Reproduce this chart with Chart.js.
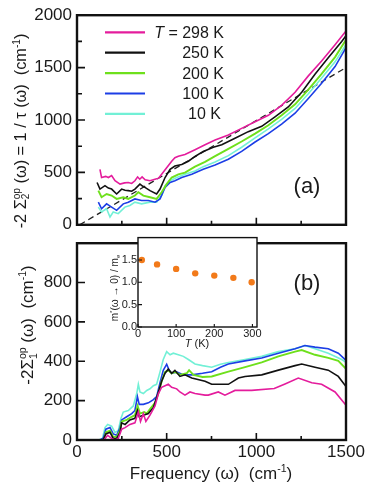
<!DOCTYPE html>
<html>
<head>
<meta charset="utf-8">
<script src="https://cdn.jsdelivr.net/npm/chart.js@4.4.1/dist/chart.umd.min.js"></script>
<style>
  body { margin: 0; background: #fff; }
  #cadre { position: relative; width: 374px; height: 487px; overflow: hidden; }
  canvas { position: absolute; }
</style>
</head>
<body>
<div id="cadre">
  <canvas id="graphA" width="374" height="240" style="left:0;top:0"></canvas>
  <canvas id="graphB" width="374" height="259" style="left:0;top:228px"></canvas>
  <canvas id="encart" width="170" height="125" style="left:100px;top:230px"></canvas>
</div>
<script>
// Données : [fréquence (cm-1), valeur (cm-1)]
// Panneau (a) : -2 Sigma2 = 1 / tau
const sig2_298K = [[128,529],[137,451],[160,462],[175,451],[193,470],[212,420],[240,388],[265,400],[286,404],[305,395],[323,420],[338,457],[350,435],[363,457],[380,430],[407,420],[435,435],[455,445],[472,482],[500,545],[528,607],[546,640],[565,654],[602,670],[658,717],[714,764],[770,810],[844,857],[918,920],[993,983],[1067,1045],[1141,1139],[1216,1265],[1290,1421],[1364,1562],[1439,1718],[1500,1850]];
const sig2_250K = [[112,404],[128,341],[156,373],[175,350],[193,341],[221,294],[249,341],[268,330],[286,326],[305,320],[323,341],[351,388],[365,370],[379,357],[407,326],[444,294],[463,341],[491,451],[519,529],[546,561],[584,576],[621,607],[658,652],[704,700],[760,740],[807,764],[881,826],[955,889],[1030,940],[1104,1030],[1178,1124],[1253,1265],[1327,1437],[1401,1593],[1476,1749],[1500,1805]];
const sig2_200K = [[119,326],[137,263],[165,294],[193,279],[221,247],[258,263],[286,247],[323,279],[342,310],[370,279],[407,263],[444,247],[472,310],[500,388],[528,451],[565,482],[602,498],[658,555],[714,600],[770,655],[844,725],[918,795],[993,870],[1067,950],[1141,1045],[1216,1150],[1290,1290],[1364,1440],[1439,1600],[1500,1765]];
const sig2_100K = [[119,216],[137,153],[165,200],[193,169],[221,138],[258,200],[286,216],[323,247],[360,232],[398,232],[435,216],[463,247],[491,357],[519,404],[546,420],[584,451],[640,482],[704,529],[770,570],[844,625],[918,700],[993,790],[1067,870],[1141,960],[1216,1065],[1290,1205],[1364,1350],[1439,1510],[1500,1690]];
const sig2_10K = [[119,169],[137,122],[165,153],[184,75],[202,122],[230,106],[267,169],[295,185],[323,216],[360,200],[407,216],[444,216],[472,279],[491,373],[519,420],[556,451],[602,482],[658,513],[704,555],[770,600],[844,660],[918,740],[993,830],[1067,915],[1141,1005],[1216,1110],[1290,1250],[1364,1400],[1439,1555],[1500,1720]];
const droiteTirets = [[15,0],[1500,1500]];

// Panneau (b) : -2 Sigma1
const sig1_298K = [[150,0],[171,24],[193,8],[212,0],[230,8],[249,55],[268,63],[295,79],[323,87],[342,142],[354,94],[370,134],[384,94],[407,126],[435,173],[454,236],[472,268],[491,276],[509,283],[528,268],[556,260],[574,244],[602,228],[630,244],[658,236],[714,228],[732,228],[788,244],[825,228],[881,252],[974,252],[1100,262],[1160,285],[1234,315],[1309,291],[1364,283],[1439,244],[1500,176]];
const sig1_250K = [[145,0],[161,31],[184,39],[202,8],[221,8],[240,39],[249,87],[268,79],[295,102],[323,110],[337,150],[347,118],[370,126],[398,134],[426,165],[454,244],[472,299],[491,339],[509,360],[528,339],[546,354],[574,323],[602,331],[640,315],[714,299],[751,283],[844,283],[900,315],[937,323],[1030,331],[1123,355],[1216,378],[1253,386],[1327,370],[1401,355],[1457,323],[1500,272]];
const sig1_200K = [[140,0],[152,5],[161,39],[184,47],[202,16],[221,16],[240,47],[249,94],[277,102],[305,118],[323,126],[338,173],[351,134],[375,142],[389,134],[407,157],[435,189],[454,236],[472,299],[491,346],[509,354],[528,339],[546,346],[574,331],[612,339],[625,355],[635,345],[649,331],[700,320],[751,323],[844,347],[937,370],[1030,394],[1123,425],[1216,449],[1253,457],[1327,433],[1401,417],[1457,402],[1500,362]];
const sig1_100K = [[130,0],[147,10],[161,55],[184,63],[202,31],[221,24],[240,63],[249,102],[277,118],[305,134],[323,150],[337,220],[347,181],[370,181],[398,189],[426,205],[444,220],[463,291],[481,354],[500,385],[514,354],[528,339],[556,346],[593,331],[640,331],[700,339],[751,347],[800,370],[844,386],[937,402],[1030,417],[1123,441],[1216,464],[1271,480],[1327,472],[1401,464],[1457,441],[1500,405]];
const sig1_10K = [[120,0],[142,8],[150,40],[156,63],[171,79],[193,71],[212,39],[230,47],[245,110],[258,142],[286,150],[314,173],[333,236],[342,283],[351,244],[370,236],[389,252],[407,260],[426,276],[444,283],[463,346],[481,409],[500,449],[519,433],[537,441],[565,433],[593,425],[621,409],[658,386],[700,378],[751,370],[800,385],[844,394],[937,409],[1030,425],[1123,449],[1216,464],[1271,480],[1327,464],[1401,441],[1476,409],[1500,394]];

// Encart : masse effective m*(w -> 0) / me en fonction de T
const temperatures = [10, 50, 100, 150, 200, 250, 298];
const masseEff = [1.5, 1.4, 1.3, 1.2, 1.15, 1.1, 1.0];

// Graduations
const ticksFreq = [0, 500, 1000, 1500];
const ticksFreqMin = [250, 750, 1250];
const ticksA = [0, 500, 1000, 1500, 2000];
const ticksAMin = [250, 750, 1250, 1750];
const ticksB = [0, 200, 400, 600, 800, 1000];
const ticksT = [0, 100, 200, 300];
const ticksM = [0, 0.5, 1.0, 1.5, 2.0];

const legendes = ['298 K', '250 K', '200 K', '100 K', '10 K'];
const couleurs = ['#e41c9c', '#111111', '#6ee01c', '#1c3ee6', '#72f0d6'];

const police = '"Liberation Sans", Arial, sans-serif';
Chart.defaults.font.family = police;
Chart.defaults.color = '#1a1a1a';

function points(tab) {
    return tab.map(function (p) { return { x: p[0], y: p[1] }; });
}

// Texte avec exposants / indices, éventuellement tourné de 90°
function texteRiche(ctx, morceaux, cx, cy, taille, tourne) {
    ctx.save();
    ctx.translate(cx, cy);
    if (tourne) ctx.rotate(-Math.PI / 2);
    ctx.textAlign = 'left';
    ctx.textBaseline = 'alphabetic';
    ctx.fillStyle = '#1a1a1a';
    const fonte = function (m) {
        const t = (m.sup || m.sub) ? taille * 0.62 : taille;
        return (m.it ? 'italic ' : '') + t + 'px ' + police;
    };
    let total = 0, prec = 0;
    morceaux.forEach(function (m) {
        ctx.font = fonte(m);
        m.w = ctx.measureText(m.t).width;
        if (m.sous) { total += Math.max(0, m.w - prec); } else { total += m.w; }
        prec = m.w;
    });
    let x = -total / 2;
    const base = taille * 0.35;
    prec = 0;
    morceaux.forEach(function (m) {
        ctx.font = fonte(m);
        let dy = 0;
        if (m.sup) dy = -taille * 0.38;
        if (m.sub) dy = taille * 0.22;
        if (m.sous) x -= prec;
        ctx.fillText(m.t, x, base + dy);
        x += (m.sous ? Math.max(m.w, prec) : m.w);
        prec = m.w;
    });
    ctx.restore();
}

// Cadre noir + graduations vers l'intérieur
function pluginCadre(o) {
    return {
        id: 'cadre',
        beforeDraw: function (chart) {
            if (!o.fond) return;
            const a = chart.chartArea;
            chart.ctx.save();
            chart.ctx.fillStyle = '#fff';
            chart.ctx.fillRect(a.left, a.top, a.right - a.left, a.bottom - a.top);
            chart.ctx.restore();
        },
        afterDatasetsDraw: function (chart) {
            const ctx = chart.ctx, a = chart.chartArea, sx = chart.scales.x, sy = chart.scales.y;
            ctx.save();
            ctx.strokeStyle = '#111';
            ctx.lineWidth = o.ep;
            ctx.strokeRect(a.left, a.top, a.right - a.left, a.bottom - a.top);
            ctx.lineWidth = o.epT;
            ctx.beginPath();
            o.xMaj.forEach(function (v) { const x = sx.getPixelForValue(v); ctx.moveTo(x, a.bottom); ctx.lineTo(x, a.bottom - o.lMaj); });
            o.xMin.forEach(function (v) { const x = sx.getPixelForValue(v); ctx.moveTo(x, a.bottom); ctx.lineTo(x, a.bottom - o.lMin); });
            o.yMaj.forEach(function (v) { const y = sy.getPixelForValue(v); ctx.moveTo(a.left, y); ctx.lineTo(a.left + o.lMaj + 1, y); });
            o.yMin.forEach(function (v) { const y = sy.getPixelForValue(v); ctx.moveTo(a.left, y); ctx.lineTo(a.left + o.lMin + 1, y); });
            ctx.stroke();
            ctx.restore();
            if (o.apres) o.apres(chart);
        }
    };
}

function courbe(tab, i) {
    return { label: legendes[i], data: points(tab), borderColor: couleurs[i], borderWidth: i === 2 ? 1.9 : 1.6, pointRadius: 0, tension: 0, fill: false };
}

function axe(min, max, liste, largeur, hauteur, taille, montrer, pad, format) {
    return {
        type: 'linear', min: min, max: max,
        grid: { display: false, drawTicks: false },
        border: { display: false },
        ticks: {
            display: montrer, padding: pad, font: { size: taille },
            callback: format || function (v) { return v; }
        },
        afterBuildTicks: function (s) { s.ticks = liste.map(function (v) { return { value: v }; }); },
        afterFit: function (s) { if (largeur !== null) s.width = largeur; if (hauteur !== null) s.height = hauteur; }
    };
}

// ---------------- Panneau (a) ----------------
const seriesA = [sig2_298K, sig2_250K, sig2_200K, sig2_100K, sig2_10K];
const dataA = seriesA.map(courbe);
dataA.push({ label: 'tirets', data: points(droiteTirets), borderColor: '#222', borderWidth: 1.3, borderDash: [6, 4], pointRadius: 0 });

new Chart(document.getElementById('graphA'), {
    type: 'line',
    data: { datasets: dataA },
    options: {
        responsive: false, animation: false, devicePixelRatio: 1,
        layout: { padding: { top: 15, right: 28, left: 0, bottom: 0 } },
        plugins: { legend: { display: false }, tooltip: { enabled: false } },
        scales: {
            x: axe(0, 1500, ticksFreq, null, 12, 17, false, 0),
            y: axe(0, 2000, ticksA, 77, null, 17, true, 5)
        }
    },
    plugins: [pluginCadre({
        ep: 2.4, epT: 1.6, lMaj: 7, lMin: 4,
        xMaj: ticksFreq, xMin: ticksFreqMin, yMaj: ticksA, yMin: ticksAMin,
        apres: function (chart) {
            const ctx = chart.ctx;
            // légende
            for (let i = 0; i < legendes.length; i++) {
                const y = 32.3 + i * 20.4;
                ctx.save();
                ctx.strokeStyle = couleurs[i];
                ctx.lineWidth = 2.2;
                ctx.beginPath(); ctx.moveTo(105, y); ctx.lineTo(145, y); ctx.stroke();
                ctx.restore();
                ctx.save();
                ctx.font = '16px ' + police;
                ctx.fillStyle = '#1a1a1a';
                ctx.textAlign = 'right';
                ctx.textBaseline = 'middle';
                ctx.fillText(legendes[i], i === 4 ? 221 : 224, y + 1);
                if (i === 0) {
                    const w = ctx.measureText(legendes[0]).width;
                    ctx.fillText('= ', 224 - w, y + 1);
                    const w2 = ctx.measureText('= ').width;
                    ctx.font = 'italic 16px ' + police;
                    ctx.fillText('T ', 224 - w - w2, y + 1);
                }
                ctx.restore();
            }
            ctx.save();
            ctx.font = '22px ' + police;
            ctx.fillStyle = '#1a1a1a';
            ctx.textAlign = 'center';
            ctx.textBaseline = 'middle';
            ctx.fillText('(a)', 307, 187);
            ctx.restore();
            texteRiche(ctx, [{ t: '-2 Σ' }, { t: 'op', sup: true }, { t: '2', sub: true, sous: true }, { t: ' (ω) = 1 / τ (ω)  (cm' }, { t: '-1', sup: true }, { t: ')' }], 20, 131, 16.3, true);
        }
    })]
});

// ---------------- Panneau (b) ----------------
const seriesB = [sig1_298K, sig1_250K, sig1_200K, sig1_100K, sig1_10K];

new Chart(document.getElementById('graphB'), {
    type: 'line',
    data: { datasets: seriesB.map(courbe) },
    options: {
        responsive: false, animation: false, devicePixelRatio: 1,
        layout: { padding: { top: 0, right: 28, left: 0, bottom: 0 } },
        plugins: { legend: { display: false }, tooltip: { enabled: false } },
        scales: {
            x: axe(0, 1500, ticksFreq, null, 47, 17, true, 2),
            y: axe(0, 1000, ticksB, 77, null, 17, true, 5, function (v) { return v === 1000 ? '' : v; })
        }
    },
    plugins: [pluginCadre({
        ep: 2.4, epT: 1.6, lMaj: 7, lMin: 4,
        xMaj: ticksFreq, xMin: ticksFreqMin, yMaj: ticksB.slice(0, 5), yMin: [],
        apres: function (chart) {
            const ctx = chart.ctx;
            ctx.save();
            ctx.font = '22px ' + police;
            ctx.fillStyle = '#1a1a1a';
            ctx.textAlign = 'center';
            ctx.textBaseline = 'middle';
            ctx.fillText('(b)', 307, 56);
            ctx.restore();
            texteRiche(ctx, [{ t: '-2Σ' }, { t: 'op', sup: true }, { t: '1', sub: true, sous: true }, { t: ' (ω)  (cm' }, { t: '-1', sup: true }, { t: ')' }], 27, 97, 17, true);
            texteRiche(ctx, [{ t: 'Frequency (ω)  (cm' }, { t: '-1', sup: true }, { t: ')' }], 211, 245, 17, false);
        }
    })]
});

// ---------------- Encart ----------------
new Chart(document.getElementById('encart'), {
    type: 'scatter',
    data: {
        datasets: [{
            data: temperatures.map(function (t, i) { return { x: t, y: masseEff[i] }; }),
            backgroundColor: '#f27a1a', borderWidth: 0, pointRadius: 3.2
        }]
    },
    options: {
        responsive: false, animation: false, devicePixelRatio: 1,
        layout: { padding: { top: 3, right: 13, left: 0, bottom: 0 } },
        plugins: { legend: { display: false }, tooltip: { enabled: false } },
        scales: {
            x: axe(0, 312, ticksT, null, 28, 11, true, 0),
            y: axe(0, 2.0, ticksM, 38, null, 11, true, 1, function (v) { return v === 2 ? '' : v.toFixed(1); })
        }
    },
    plugins: [pluginCadre({
        fond: true, ep: 1.4, epT: 1.1, lMaj: 3, lMin: 2,
        xMaj: ticksT, xMin: [], yMaj: ticksM.slice(0, 4), yMin: [],
        apres: function (chart) {
            const ctx = chart.ctx;
            texteRiche(ctx, [{ t: 'T', it: true }, { t: ' (K)' }], 97, 113, 11, false);
            texteRiche(ctx, [{ t: 'm' }, { t: '*', sup: true }, { t: '(ω → 0) / m' }, { t: 'e', sub: true }], 14, 58, 10, true);
        }
    })]
});
</script>
</body>
</html>
